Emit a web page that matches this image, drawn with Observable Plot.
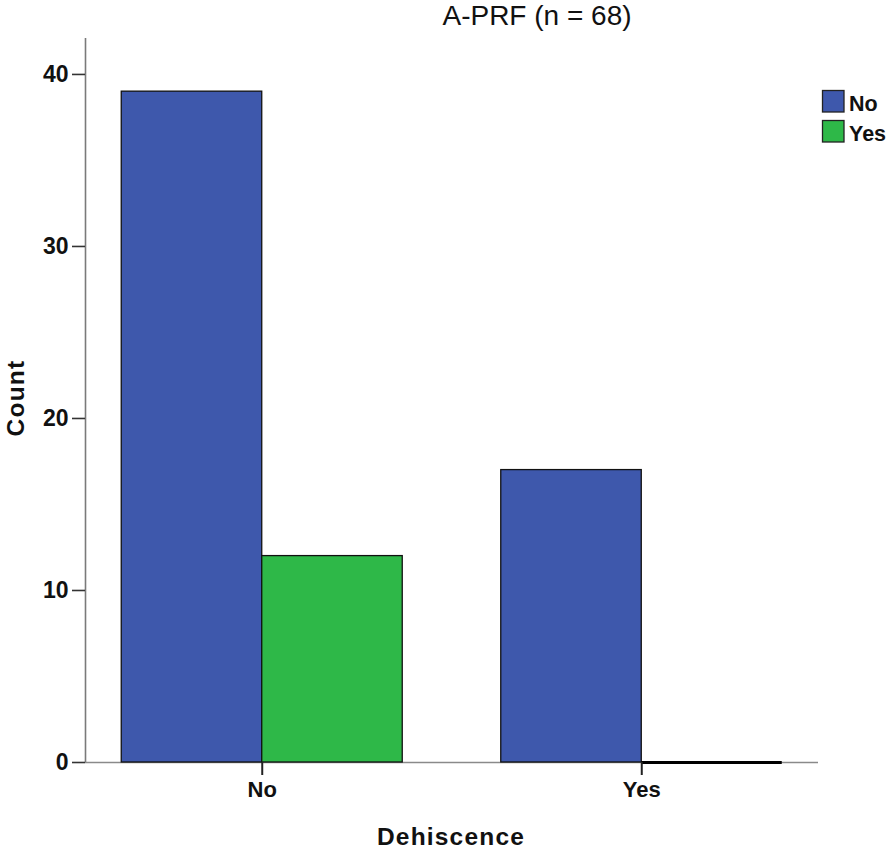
<!DOCTYPE html>
<html>
<head>
<meta charset="utf-8">
<script src="https://cdn.jsdelivr.net/npm/d3@7"></script>
<script src="https://cdn.jsdelivr.net/npm/@observablehq/plot@0.6"></script>
<style>
  html, body { margin: 0; padding: 0; background: #fff; }
  #wrap { position: relative; width: 894px; height: 850px; }
  #wrap > svg { position: absolute; left: 0; top: 0; }
</style>
</head>
<body>
<div id="wrap"></div>
<script>
// ---- data ----
const title = "A-PRF (n = 68)";
const xTitle = "Dehiscence";
const yTitle = "Count";
const groups = ["No", "Yes"];          // Dehiscence categories (x axis)
const series = ["No", "Yes"];          // legend series
const seriesColors = ["#3E58AC", "#2EB848"];
const countsNo  = [39, 17];            // series "No" per group
const countsYes = [12, 0];             // series "Yes" per group
const yTicks = [0, 10, 20, 30, 40];

// ---- table ----
const valuesBySeries = [countsNo, countsYes];
const data = [];
groups.forEach((g, gi) => series.forEach((s, si) => {
  data.push({group: g, series: s, gi, si, value: valuesBySeries[si][gi]});
}));

const barW = 0.3702;      // bar width in group units
const pad = 0.4657;       // outer padding in group units
const x1 = d => d.gi - barW + d.si * barW;
const x2 = d => d.gi + d.si * barW;

const W = 894, H = 850;
const chart = Plot.plot({
  width: W, height: H,
  marginLeft: 85, marginRight: 76, marginTop: 38, marginBottom: 88,
  style: {fontFamily: "'Liberation Sans', Arial, sans-serif", background: "transparent"},
  x: {type: "linear", domain: [-pad, groups.length - 1 + pad]},
  y: {domain: [0, 42.09]},
  color: {domain: series, range: seriesColors},
  marks: [
    Plot.ruleY([0], {stroke: "#8a8a8a", strokeWidth: 1.6}),
    Plot.ruleX([-pad], {stroke: "#7a7a7a", strokeWidth: 1.6}),
    Plot.rectY(data.filter(d => d.value > 0), {
      x1, x2, y1: 0, y2: "value", fill: "series", stroke: "#111", strokeWidth: 1.3
    }),
    Plot.ruleY(data.filter(d => d.value === 0), {
      x1, x2, y: "value", stroke: "#000", strokeWidth: 3
    }),
    Plot.axisY({
      ticks: yTicks, tickSize: 13, tickPadding: 4, label: null,
      fontSize: 23, fontWeight: "bold", stroke: "#333", strokeWidth: 1.6, fill: "#111"
    }),
    Plot.axisX({
      ticks: groups.map((g, i) => i), tickFormat: i => groups[i],
      tickSize: 13, tickPadding: 6, label: null,
      fontSize: 22, fontWeight: "bold", stroke: "#222", strokeWidth: 2, fill: "#111"
    })
  ]
});
const wrap = document.getElementById("wrap");
wrap.appendChild(chart);

// ---- overlay texts & legend ----
const ov = d3.create("svg").attr("width", W).attr("height", H)
  .style("font-family", "'Liberation Sans', Arial, sans-serif");
ov.append("text").attr("x", 537).attr("y", 25).attr("text-anchor", "middle")
  .attr("font-size", 28).attr("fill", "#111").text(title);
ov.append("text").attr("x", 451).attr("y", 845).attr("text-anchor", "middle")
  .attr("font-size", 24.5).attr("font-weight", "bold").attr("letter-spacing", 1.2)
  .attr("fill", "#111").text(xTitle);
ov.append("text").attr("transform", "translate(24,398) rotate(-90)")
  .attr("text-anchor", "middle").attr("font-size", 24.5).attr("font-weight", "bold")
  .attr("letter-spacing", 1.2).attr("fill", "#111").text(yTitle);
const lg = ov.append("g");
series.forEach((s, i) => {
  const y0 = 90 + i * 30;
  lg.append("rect").attr("x", 822.5).attr("y", y0 + 0.5).attr("width", 21.5).attr("height", 21.5)
    .attr("fill", seriesColors[i]).attr("stroke", "#222").attr("stroke-width", 1.3);
  lg.append("text").attr("x", 849).attr("y", y0 + 21).attr("font-size", 21.5)
    .attr("font-weight", "bold").attr("fill", "#111").text(s);
});
wrap.appendChild(ov.node());
</script>
</body>
</html>
